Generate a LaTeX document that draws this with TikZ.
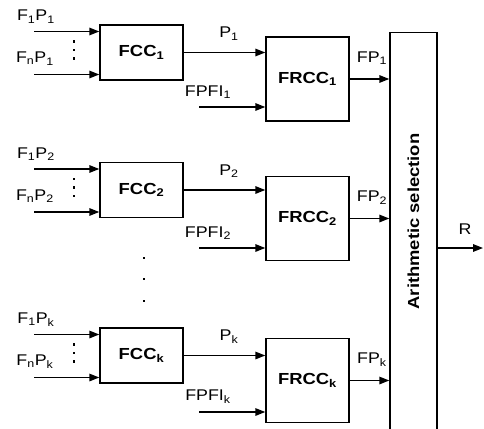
\documentclass[tikz,border=0pt]{standalone}
\usepackage{fontspec}
\setmainfont{Liberation Sans}
\usetikzlibrary{arrows.meta}
\newcommand{\hs}[1]{\scalebox{1.15}[1]{#1}}
\begin{document}
\begin{tikzpicture}[x=1pt,y=-1pt,
  box/.style={draw,line width=1.4pt,inner sep=0pt,font=\fontsize{16}{18}\selectfont\bfseries},
  fccbox/.style={box,minimum width=83pt,minimum height=55pt},
  frccbox/.style={box,minimum width=83pt,minimum height=84pt},
  arr/.style={line width=1.6pt,-{Triangle[length=10pt,width=7.5pt]}},
  lbl/.style={font=\fontsize{15.5}{18}\selectfont,inner sep=0pt},
  dotmark/.style={fill,inner sep=0pt,minimum size=2.4pt}
]
\useasboundingbox (0,0) rectangle (484,428);
\node[draw,line width=1.4pt,minimum width=47pt,minimum height=410pt,inner sep=0pt] (sel) at (413.5,237.5) {};
\node[rotate=90,font=\fontsize{16}{18}\selectfont\bfseries,inner sep=0pt] (seltext) at (413.5,221.5) {\scalebox{1.15}[1]{Arithmetic selection}};
\coordinate (rend) at (483,248);
\draw[arr] (sel.east |- rend) -- (rend);
\node[lbl] (rlabel) at (465,229) {\hs{R}};
\foreach \s/\c/\r/\f in {1/52.5/79/107, 2/190/218.5/248, k/355.5/380.5/412}{
  \node[fccbox] (fcc\s) at (141.5,\c) {\hs{FCC\textsubscript{\s}}};
  \node[frccbox] (frcc\s) at (307.5,\r) {\hs{FRCC\textsubscript{\s}}};
  \coordinate (ina\s) at (34,\c-21);
  \coordinate (inb\s) at (34,\c+22);
  \draw[arr] (ina\s) -- (ina\s -| fcc\s.west);
  \draw[arr] (inb\s) -- (inb\s -| fcc\s.west);
  \node[lbl] (la\s) at (36,\c-36) {\hs{F\textsubscript{1}P\textsubscript{\s}}};
  \node[lbl] (lb\s) at (35,\c+6) {\hs{F\textsubscript{n}P\textsubscript{\s}}};
  \node[dotmark] (da\s) at (74,\c-11) {};
  \node[dotmark] (db\s) at (74,\c-2.5) {};
  \node[dotmark] (dc\s) at (74,\c+6) {};
  \draw[arr] (fcc\s.east) -- (fcc\s.east -| frcc\s.west);
  \node[lbl] (lp\s) at (229,\c-19) {\hs{P\textsubscript{\s}}};
  \coordinate (fpi\s) at (199,\f);
  \draw[arr] (fpi\s) -- (fpi\s -| frcc\s.west);
  \node[lbl] (lf\s) at (208,\f-15) {\hs{FPFI\textsubscript{\s}}};
  \draw[arr] (frcc\s.east) -- (frcc\s.east -| sel.west);
  \node[lbl] (lo\s) at (372,\r-21) {\hs{FP\textsubscript{\s}}};
}
\node[dotmark] (m1) at (144,258) {};
\node[dotmark] (m2) at (144,279) {};
\node[dotmark] (m3) at (144,301) {};
\end{tikzpicture}
\end{document}
